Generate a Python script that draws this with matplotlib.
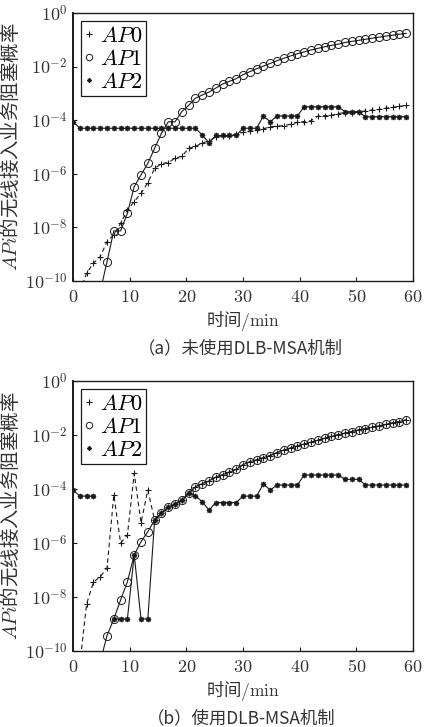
import numpy as np
import matplotlib
matplotlib.use("Agg")
import matplotlib.pyplot as plt
from matplotlib.ticker import FixedLocator, FixedFormatter
from matplotlib.lines import Line2D

plt.rcParams['font.family'] = ['Noto Sans CJK SC', 'DejaVu Sans']
plt.rcParams['mathtext.fontset'] = 'cm'

nan = np.nan
# time axis (min)
t = [0.0, 1.2, 2.4, 3.6, 4.8, 6.0, 7.2, 8.4, 9.6, 10.8, 12.0, 13.2, 14.4, 15.6, 16.8,
     18.0, 19.2, 20.4, 21.6, 22.8, 24.0, 25.2, 26.4, 27.6, 28.8, 30.0, 31.2, 32.4,
     33.6, 34.8, 36.0, 37.2, 38.4, 39.6, 40.8, 42.0, 43.2, 44.4, 45.6, 46.8, 48.0,
     49.2, 50.4, 51.6, 52.8, 54.0, 55.2, 56.4, 57.6, 58.8]

# (a) without DLB-MSA : log10 of blocking probability
a_ap0 = [nan, -10.4, -9.71, -9.34, -9.09, -8.53, -8.28, -7.85, -7.35, -7.04, -6.73,
         -6.33, -5.80, -5.62, -5.58, -5.42, -5.35, -5.05, -4.98, -4.85, -4.78, -4.62,
         -4.58, -4.58, -4.52, -4.45, -4.42, -4.38, -4.32, -4.25, -4.22, -4.20, -4.15,
         -4.08, -4.05, -4.02, -3.85, -3.83, -3.82, -3.75, -3.72, -3.72, -3.70, -3.65,
         -3.62, -3.60, -3.55, -3.52, -3.48, -3.45]
a_ap1 = [nan, nan, nan, nan, -10.4, -9.28, -8.13, -8.13, -7.47, -6.48, -6.04, -5.61,
         -5.05, -4.49, -4.06, -4.06, -3.68, -3.45, -3.18, -3.06, -2.95, -2.80, -2.65,
         -2.55, -2.45, -2.30, -2.19, -2.08, -1.98, -1.88, -1.78, -1.69, -1.60, -1.52,
         -1.45, -1.38, -1.32, -1.26, -1.21, -1.16, -1.10, -1.06, -1.02, -0.98, -0.94,
         -0.90, -0.86, -0.83, -0.79, -0.76]
a_ap2 = [-4.05, -4.30, -4.30, -4.30, -4.30, -4.30, -4.30, -4.30, -4.30, -4.30, -4.30,
         -4.30, -4.30, -4.30, -4.30, -4.30, -4.30, -4.30, -4.30, -4.55, -4.84, -4.57,
         -4.57, -4.57, -4.57, -4.30, -4.30, -4.30, -3.84, -4.06, -3.84, -3.84, -3.84,
         -3.84, -3.50, -3.50, -3.50, -3.50, -3.50, -3.50, -3.68, -3.68, -3.68, -3.87,
         -3.87, -3.87, -3.87, -3.87, -3.87, -3.87]

# (b) with DLB-MSA
b_ap0 = [nan, -10.5, -8.25, -7.45, -7.25, -6.93, -4.22, -6.00, -5.70, -3.42, -5.25,
         -4.04, -5.15, -4.88, -4.68, -4.57, -4.42, -4.15, -3.92, -3.80, -3.70, -3.56,
         -3.47, -3.37, -3.27, -3.10, -2.99, -2.92, -2.84, -2.76, -2.65, -2.56, -2.48,
         -2.40, -2.33, -2.26, -2.19, -2.12, -2.05, -1.99, -1.93, -1.87, -1.81, -1.76,
         -1.71, -1.66, -1.61, -1.55, -1.50, -1.44]
b_ap1 = [nan, nan, nan, nan, -10.4, -9.43, -8.81, -8.11, -7.43, -6.44, -5.95, -5.58,
         -5.15, -4.88, -4.68, -4.57, -4.42, -4.15, -3.92, -3.80, -3.70, -3.56, -3.47,
         -3.37, -3.27, -3.10, -2.99, -2.92, -2.84, -2.76, -2.65, -2.56, -2.48, -2.40,
         -2.33, -2.26, -2.19, -2.12, -2.05, -1.99, -1.93, -1.87, -1.81, -1.76, -1.71,
         -1.66, -1.61, -1.55, -1.50, -1.44]
b_ap2 = [-4.04, -4.26, -4.26, -4.26, nan, nan, -8.81, -8.81, -8.81, -6.44, -8.81,
         -8.81, -5.15, -4.88, -4.68, -4.57, -4.42, -4.15, -4.25, -4.47, -4.78, -4.50,
         -4.50, -4.50, -4.50, -4.26, -4.26, -4.26, -3.81, -4.04, -3.85, -3.85, -3.85,
         -3.85, -3.48, -3.48, -3.48, -3.48, -3.48, -3.48, -3.64, -3.64, -3.64, -3.85,
         -3.85, -3.85, -3.85, -3.85, -3.85, -3.85]

legend_labels = [r'$AP0$', r'$AP1$', r'$AP2$']
captions = ['（a）未使用DLB-MSA机制', '（b）使用DLB-MSA机制']
ylabel = r'$APi$的无线接入业务阻塞概率'
xlabel = '时间' + r'$/\mathrm{min}$'
xticks = [0, 10, 20, 30, 40, 50, 60]
yexp = [0, -2, -4, -6, -8, -10]

fig = plt.figure(figsize=(4.25, 7.27), dpi=100)
positions = [[0.1718, 0.6135, 0.80, 0.3686], [0.1718, 0.1045, 0.80, 0.3714]]
panels = [(a_ap0, a_ap1, a_ap2), (b_ap0, b_ap1, b_ap2)]
ink = '#1a1a1a'

for k, (pos, (s0, s1, s2)) in enumerate(zip(positions, panels)):
    ax = fig.add_axes(pos)
    tt = np.array(t)
    ax.plot(tt, 10.0 ** np.array(s0), ls=(0, (4, 3)), color=ink, lw=0.8,
            marker='+', ms=5, mew=0.8, label=legend_labels[0])
    ax.plot(tt, 10.0 ** np.array(s1), ls='-', color=ink, lw=0.8,
            marker='o', ms=5.8, mew=0.7, mfc='none', label=legend_labels[1])
    ax.plot(tt, 10.0 ** np.array(s2), ls='-', color=ink, lw=0.8,
            marker=(8, 2, 0), ms=3.8, mew=0.8, label=legend_labels[2])
    ax.set_yscale('log')
    ax.set_ylim(1e-10, 1)
    ax.set_xlim(0, 60)
    ax.yaxis.set_major_locator(FixedLocator([10.0 ** e for e in yexp]))
    ax.yaxis.set_major_formatter(FixedFormatter([r'$10^{%d}$' % e for e in yexp]))
    ax.yaxis.set_minor_locator(FixedLocator([]))
    ax.xaxis.set_major_locator(FixedLocator(xticks))
    ax.xaxis.set_major_formatter(FixedFormatter([r'$%d$' % v for v in xticks]))
    ax.tick_params(direction='in', length=3, width=0.8, labelsize=13,
                   colors=ink, labelcolor='#333333')
    ax.tick_params(axis='x', pad=5)
    ax.tick_params(axis='y', pad=4)
    for sp in ax.spines.values():
        sp.set_linewidth(1.0)
        sp.set_color(ink)
    ax.spines['left'].set_linewidth(1.4)
    ax.set_xlabel(xlabel, fontsize=12.5, color='#333333', labelpad=2)
    ax.set_ylabel(ylabel, fontsize=14, color='#333333', labelpad=2)
    h, l = ax.get_legend_handles_labels()
    hh = [Line2D([], [], ls='none', marker=x.get_marker(), ms=x.get_markersize() * 0.8,
                 mew=x.get_markeredgewidth(), mfc=x.get_markerfacecolor(), color=ink)
          for x in h]
    leg = ax.legend(hh, l, loc='upper left', fontsize=16, handlelength=0.45,
                    handletextpad=0.25, labelspacing=0.0, borderpad=0.15,
                    borderaxespad=0.35, fancybox=False, framealpha=1)
    leg.get_frame().set_edgecolor(ink)
    leg.get_frame().set_linewidth(0.9)
    fig.text(pos[0] + pos[2] / 2 - 0.005, pos[1] - 0.092, captions[k],
             ha='center', va='center', fontsize=12.5, color='#333333')

fig.savefig('out.png', dpi=100)
